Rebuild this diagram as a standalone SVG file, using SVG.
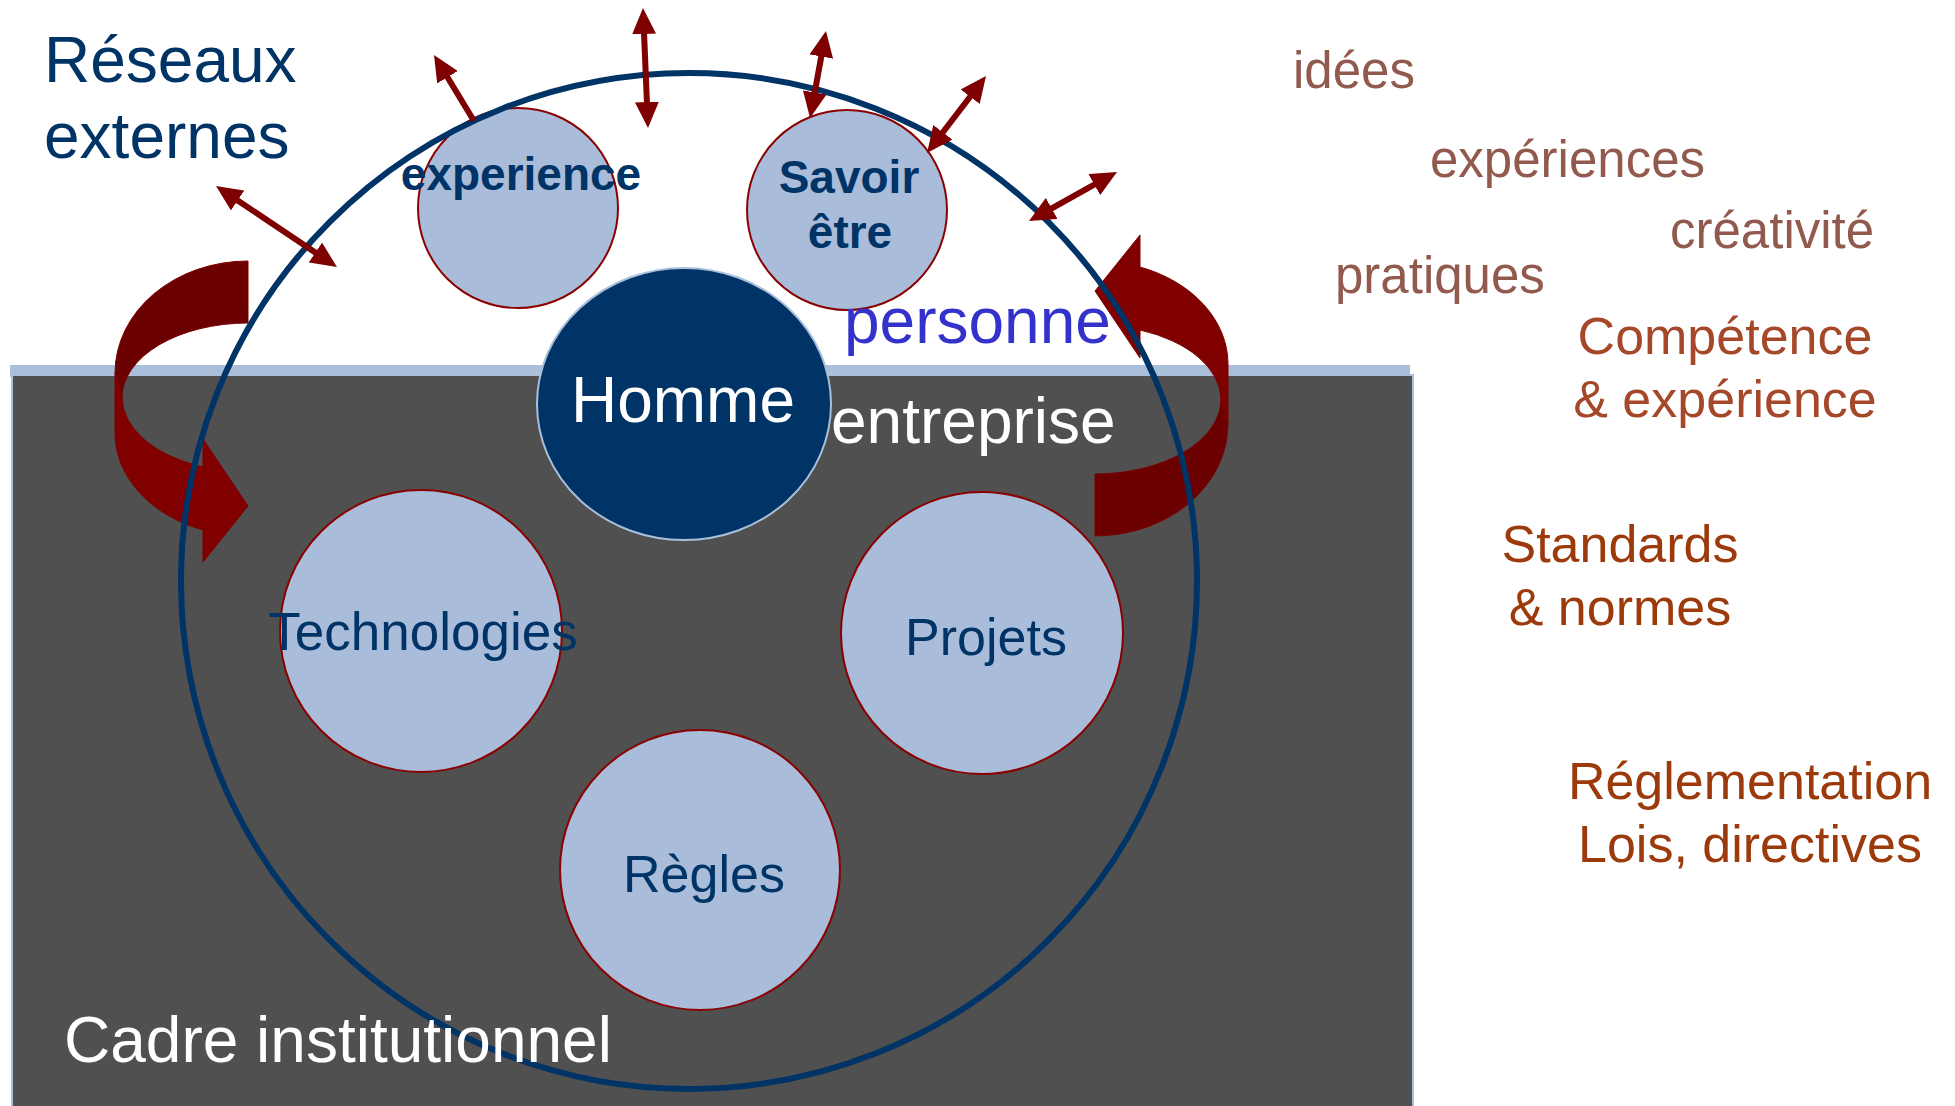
<svg xmlns="http://www.w3.org/2000/svg" width="1955" height="1106" viewBox="0 0 1955 1106">
  <defs>
    <style>
      text { font-family: "Liberation Sans", Arial, sans-serif; }
      .small { fill: #A9BDDB; stroke: #8B0000; stroke-width: 2; }
      .navy { fill: #003366; }
      .bold { font-weight: bold; }
      .brown { fill: #925A4E; font-size: 51px; }
      .rust { fill: #A5482A; font-size: 52px; }
      .red { fill: #9C3A0C; font-size: 52px; }
      .arr { stroke: #7F0000; stroke-width: 6; fill: none; }
      .mid { text-anchor: middle; }
    </style>
    <marker id="ah" viewBox="0 0 26 24" markerWidth="26" markerHeight="24" refX="4" refY="12" markerUnits="userSpaceOnUse" orient="auto-start-reverse">
      <path d="M0,0 L26,12 L0,24 Z" fill="#7F0000"/>
    </marker>
    <g id="curl">
      <path d="M248,261 A133,112 0 0 0 115,373 L122,398 A126,75 0 0 1 248,323 Z" fill="#6B0000" stroke="#7F0000" stroke-width="1"/>
      <path d="M115,373 L115,433 A133,103 0 0 0 203,530 L203,562 L248,506 L203,439 L203,467 A126,75 0 0 1 122,398 Z" fill="#800000" stroke="#7F0000" stroke-width="1"/>
    </g>
  </defs>

  <rect width="1955" height="1106" fill="#FFFFFF"/>

  <g id="cadre">
    <rect x="10" y="365" width="1400" height="12" fill="#A9BFDA"/>
    <rect x="12" y="375" width="1401" height="740" fill="#505050" stroke="#A9BFDA" stroke-width="2"/>
  </g>

  <g id="flows">
    <use href="#curl"/>
    <use href="#curl" transform="rotate(180 671.5 398.5)"/>
  </g>

  <g id="experience">
    <circle class="small" cx="518" cy="208" r="100"/>
    <text class="navy bold mid" x="521" y="190" font-size="46">experience</text>
  </g>

  <g id="savoir-etre">
    <circle class="small" cx="847" cy="210" r="100"/>
    <text class="navy bold mid" x="849" y="193" font-size="46">Savoir</text>
    <text class="navy bold mid" x="850" y="248" font-size="46">être</text>
  </g>

  <g id="technologies">
    <circle class="small" cx="421" cy="631" r="141"/>
    <text class="navy mid" x="423" y="650" font-size="53">Technologies</text>
  </g>

  <g id="projets">
    <circle class="small" cx="982" cy="633" r="141"/>
    <text class="navy mid" x="986" y="655" font-size="52">Projets</text>
  </g>

  <g id="regles">
    <circle class="small" cx="700" cy="870" r="140"/>
    <text class="navy mid" x="704" y="892" font-size="52">Règles</text>
  </g>

  <g id="homme">
    <ellipse cx="684" cy="404" rx="147" ry="136" fill="#003366" stroke="#A9BFDA" stroke-width="2"/>
    <text class="mid" x="683" y="422" font-size="64" fill="#FFFFFF">Homme</text>
  </g>

  <g id="entreprise-cercle">
    <circle cx="689" cy="581" r="508" fill="none" stroke="#003366" stroke-width="6"/>
  </g>

  <g id="connectors">
    <line class="arr" x1="234.3" y1="198.2" x2="318.7" y2="254.8" marker-start="url(#ah)" marker-end="url(#ah)"/>
    <line class="arr" x1="474" y1="121" x2="445.4" y2="73.8" marker-end="url(#ah)"/>
    <line class="arr" x1="643.9" y1="30" x2="647.1" y2="106" marker-start="url(#ah)" marker-end="url(#ah)"/>
    <line class="arr" x1="822" y1="52.6" x2="814" y2="96.4" marker-start="url(#ah)" marker-end="url(#ah)"/>
    <line class="arr" x1="972.6" y1="93.5" x2="940.4" y2="135.5" marker-start="url(#ah)" marker-end="url(#ah)"/>
    <line class="arr" x1="1097.8" y1="182.7" x2="1048.2" y2="210.3" marker-start="url(#ah)" marker-end="url(#ah)"/>
  </g>

  <g id="labels">
    <text class="navy" x="44" y="82" font-size="64">Réseaux</text>
    <text class="navy" x="44" y="158" font-size="64">externes</text>
    <text x="844" y="343" font-size="64" fill="#3333CC">personne</text>
    <text x="831" y="443" font-size="64" fill="#FFFFFF">entreprise</text>
    <text x="64" y="1062" font-size="64" fill="#FFFFFF">Cadre institutionnel</text>
  </g>

  <g id="notes">
    <text class="brown" x="1293" y="88">idées</text>
    <text class="brown" x="1430" y="177">expériences</text>
    <text class="brown" x="1670" y="248">créativité</text>
    <text class="brown" x="1335" y="293">pratiques</text>
    <text class="rust mid" x="1725" y="354">Compétence</text>
    <text class="rust mid" x="1725" y="417">&amp; expérience</text>
    <text class="red mid" x="1620" y="562">Standards</text>
    <text class="red mid" x="1620" y="625">&amp; normes</text>
    <text class="red mid" x="1750" y="799">Réglementation</text>
    <text class="red mid" x="1750" y="862">Lois, directives</text>
  </g>
</svg>
